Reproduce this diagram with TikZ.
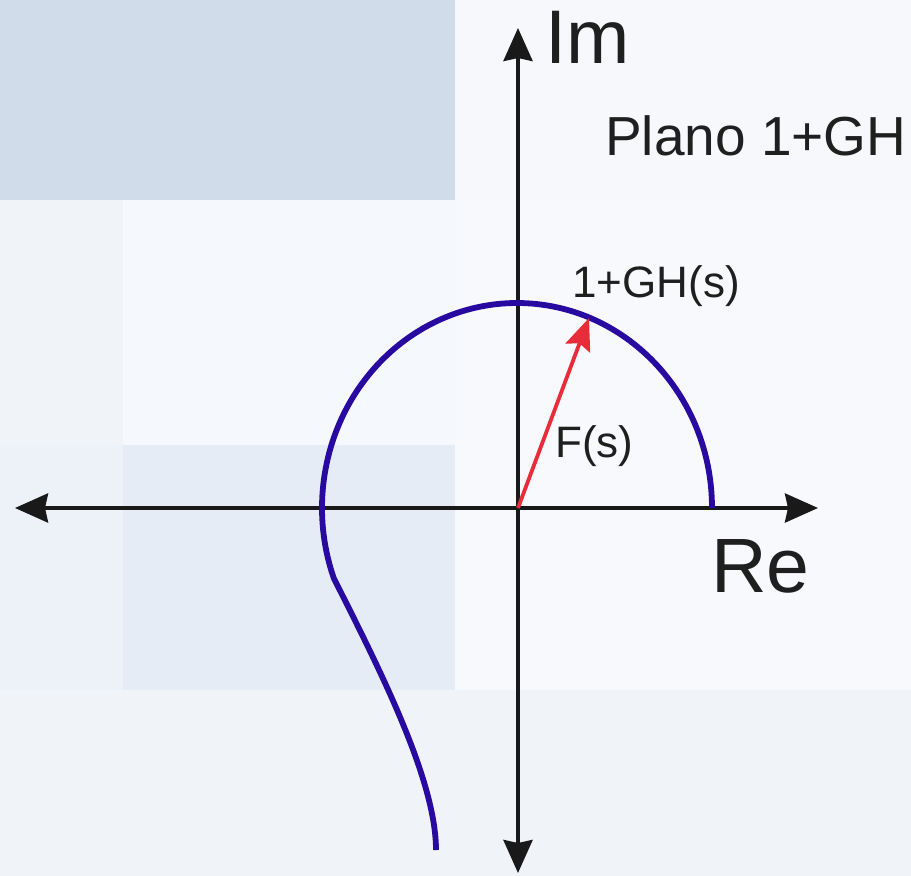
\documentclass[tikz,border=0pt]{standalone}
\usepackage{fontspec}
\setmainfont{Liberation Sans}
\usetikzlibrary{arrows.meta}
\definecolor{bgA}{HTML}{D0DCE9}
\definecolor{bgB}{HTML}{F6F8FB}
\definecolor{bgC}{HTML}{F0F4F9}
\definecolor{bgD}{HTML}{F5F8FC}
\definecolor{bgE}{HTML}{F7F9FC}
\definecolor{bgF}{HTML}{EDF1F8}
\definecolor{bgG}{HTML}{E6ECF5}
\definecolor{bgH}{HTML}{F0F3F8}
\definecolor{curveblue}{RGB}{40,10,160}
\definecolor{vecred}{RGB}{232,44,58}
\definecolor{axisgray}{RGB}{25,25,25}
\tikzset{
  axisline/.style={draw=axisgray, line width=3.8pt, {Stealth[length=33pt,width=29pt,inset=3pt]}-{Stealth[length=33pt,width=29pt,inset=3pt]}},
  curveline/.style={draw=curveblue, line width=5.8pt},
  vecline/.style={draw=vecred, line width=3.8pt, -{Stealth[length=32pt,width=26pt,inset=5pt]}},
  lbl/.style={anchor=base west, inner sep=0pt, text=black!88}
}
\begin{document}
\begin{tikzpicture}[x=1pt,y=1pt]
\useasboundingbox (0,0) rectangle (911,-876);
% background
\fill[bgA] (0,0) rectangle (455,-200);
\fill[bgB] (455,0) rectangle (911,-200);
\fill[bgC] (0,-200) rectangle (123,-445);
\fill[bgD] (123,-200) rectangle (455,-445);
\fill[bgE] (455,-200) rectangle (911,-690);
\fill[bgF] (0,-445) rectangle (123,-690);
\fill[bgG] (123,-445) rectangle (455,-690);
\fill[bgH] (0,-690) rectangle (911,-876);
% coordinates
\coordinate (O) at (518,-508);
\coordinate (xl) at (15,-508);
\coordinate (xr) at (818,-508);
\coordinate (yt) at (518,-28);
\coordinate (yb) at (518,-873);
\coordinate (arcstart) at (712,-508);
\coordinate (tail) at (436,-850);
\coordinate (F) at (589,-318);
% axes
\draw[axisline] (xl) -- (xr);
\draw[axisline] (yb) -- (yt);
% curve
\draw[curveline] (arcstart) arc[start angle=0, end angle=200, x radius=195, y radius=205]
  .. controls (380,-670) and (436,-780) .. (tail);
% vector
\draw[vecline] (O) -- (F);
% labels
\node[lbl, font=\fontsize{76}{76}\selectfont] (im) at (545,-63) {Im};
\node[lbl, font=\fontsize{77}{77}\selectfont] (re) at (711,-592) {Re};
\node[lbl, font=\fontsize{55}{55}\selectfont] (plano) at (605,-155) {Plano 1+GH};
\node[lbl, font=\fontsize{44}{44}\selectfont] (gh) at (572,-297) {1+GH(s)};
\node[lbl, font=\fontsize{44}{44}\selectfont] (fs) at (555,-457) {F(s)};
\end{tikzpicture}
\end{document}
